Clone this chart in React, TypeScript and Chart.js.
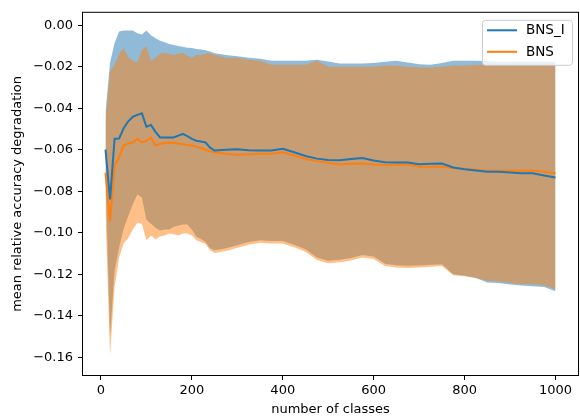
import React, { useEffect, useRef } from "react";
import { Chart, registerables } from "chart.js";

Chart.register(...registerables);

const CLASSES = [
  10, 20, 30, 40, 50, 60, 70, 80, 90, 100, 110, 120, 130, 140, 150, 160, 170, 180, 190, 200, 210, 220, 230, 240, 250,
  275, 300, 325, 350, 375, 400, 425, 450, 475, 500, 525, 550, 575, 600, 625, 650, 675, 700, 725, 750, 775, 800, 825,
  850, 875, 900, 925, 950, 975, 1000,
];

const BNS_I_MEAN = [
  -0.06, -0.084, -0.0547, -0.0546, -0.0496, -0.0463, -0.0442, -0.0432, -0.0424, -0.0489, -0.0481, -0.0514, -0.0541,
  -0.0541, -0.0541, -0.0541, -0.0532, -0.0524, -0.0535, -0.0548, -0.0557, -0.056, -0.0565, -0.059, -0.0604,
  -0.06, -0.0598, -0.0602, -0.0604, -0.0604, -0.0596, -0.0612, -0.063, -0.0643, -0.065, -0.0651, -0.0645, -0.064,
  -0.0652, -0.066, -0.0662, -0.0662, -0.067, -0.0668, -0.0667, -0.0686, -0.0694, -0.07, -0.0706, -0.0706, -0.071,
  -0.0713, -0.0713, -0.0724, -0.0734,
];

const BNS_I_UPPER = [
  -0.042, -0.018, -0.0086, -0.003, -0.0025, -0.0025, -0.0025, -0.0039, -0.0045, -0.0025, -0.0048, -0.0063, -0.0075,
  -0.0082, -0.009, -0.0095, -0.01, -0.0104, -0.0108, -0.011, -0.0114, -0.0117, -0.012, -0.0127, -0.0135,
  -0.0143, -0.015, -0.0157, -0.0162, -0.0171, -0.0171, -0.0171, -0.0171, -0.0166, -0.0175, -0.0185, -0.0185, -0.0185,
  -0.0182, -0.0176, -0.0171, -0.018, -0.0188, -0.019, -0.0182, -0.0171, -0.0171, -0.0171, -0.0174, -0.0176, -0.0176,
  -0.0176, -0.0176, -0.0176, -0.0176,
];

const BNS_I_LOWER = [
  -0.073, -0.15, -0.118, -0.107, -0.098, -0.092, -0.0864, -0.0816, -0.083, -0.0938, -0.0957, -0.0976, -0.099,
  -0.0985, -0.0985, -0.0971, -0.0966, -0.0961, -0.0961, -0.0985, -0.102, -0.103, -0.1045, -0.1075, -0.1085,
  -0.1075, -0.106, -0.1045, -0.1037, -0.104, -0.104, -0.1058, -0.108, -0.112, -0.1135, -0.1131, -0.1122, -0.1108,
  -0.1115, -0.115, -0.1157, -0.1159, -0.1158, -0.1154, -0.1152, -0.12, -0.1207, -0.1218, -0.124, -0.1242, -0.125,
  -0.1255, -0.1258, -0.1262, -0.1282,
];

const BNS_MEAN = [
  -0.0712, -0.0947, -0.0675, -0.0635, -0.058, -0.057, -0.0565, -0.0547, -0.0565, -0.0557, -0.0541, -0.058, -0.0572,
  -0.0568, -0.0565, -0.0567, -0.057, -0.0573, -0.0577, -0.058, -0.0585, -0.0592, -0.06, -0.0608, -0.0612,
  -0.062, -0.0624, -0.0622, -0.062, -0.0619, -0.0612, -0.0628, -0.0645, -0.0655, -0.0663, -0.0671, -0.0668, -0.0666,
  -0.0671, -0.0674, -0.0673, -0.0671, -0.0682, -0.0682, -0.0682, -0.0688, -0.0692, -0.0696, -0.0701, -0.0701, -0.0701,
  -0.0701, -0.0701, -0.0706, -0.0713,
];

const BNS_UPPER = [
  -0.046, -0.022, -0.019, -0.0138, -0.011, -0.0152, -0.0171, -0.018, -0.0119, -0.01, -0.0171, -0.0157, -0.0138,
  -0.0133, -0.0138, -0.0143, -0.0138, -0.0133, -0.0147, -0.0157, -0.0143, -0.0143, -0.0138, -0.0133, -0.0143,
  -0.0157, -0.0157, -0.0166, -0.0171, -0.019, -0.019, -0.019, -0.019, -0.0171, -0.02, -0.02, -0.02, -0.02,
  -0.02, -0.0194, -0.0194, -0.02, -0.0204, -0.0204, -0.02, -0.0194, -0.0194, -0.019, -0.019, -0.019, -0.019,
  -0.019, -0.019, -0.019, -0.019,
];

const BNS_LOWER = [
  -0.09, -0.159, -0.126, -0.112, -0.105, -0.1027, -0.0985, -0.0952, -0.0957, -0.1037, -0.1013, -0.1032, -0.1018,
  -0.1013, -0.1004, -0.1008, -0.1013, -0.1004, -0.1004, -0.1013, -0.1037, -0.1045, -0.1055, -0.1085, -0.1098,
  -0.1088, -0.1072, -0.1058, -0.1049, -0.1052, -0.1052, -0.107, -0.1092, -0.1132, -0.1147, -0.1143, -0.1134, -0.112,
  -0.1127, -0.116, -0.1168, -0.117, -0.1168, -0.1164, -0.116, -0.1205, -0.121, -0.1218, -0.1232, -0.1234, -0.1243,
  -0.1248, -0.1248, -0.1253, -0.1272,
];

const SERIES_LABELS = ["BNS_I", "BNS"];
const X_TICKS = [0, 200, 400, 600, 800, 1000];
const Y_TICKS = [-0.16, -0.14, -0.12, -0.1, -0.08, -0.06, -0.04, -0.02, 0];
const X_TITLE = "number of classes";
const Y_TITLE = "mean relative accuracy degradation";

const BLUE = "#1f77b4";
const ORANGE = "#ff7f0e";
const FONT = "'DejaVu Sans'";

const pts = (ys: number[]) => CLASSES.map((x, i) => ({ x, y: ys[i] }));

const framePlugin = {
  id: "mplFrame",
  afterDatasetsDraw(chart: any) {
    const { ctx, chartArea } = chart;
    ctx.save();
    ctx.strokeStyle = "#000";
    ctx.lineWidth = 1;
    ctx.strokeRect(chartArea.left - 0.5, chartArea.top - 0.5, chartArea.right - chartArea.left + 1, chartArea.bottom - chartArea.top + 1);
    ctx.restore();
  },
};

const legendPlugin = {
  id: "mplLegend",
  afterDraw(chart: any) {
    const { ctx, chartArea } = chart;
    const boxW = 90;
    const boxH = 45;
    const boxR = chartArea.right - 6;
    const boxT = chartArea.top + 7;
    const boxL = boxR - boxW;
    ctx.save();
    ctx.beginPath();
    (ctx as any).roundRect(boxL + 0.5, boxT + 0.5, boxW, boxH, 3);
    ctx.fillStyle = "rgba(255,255,255,0.8)";
    ctx.fill();
    ctx.strokeStyle = "#cccccc";
    ctx.lineWidth = 1;
    ctx.stroke();
    [0, 1].forEach((idx, k) => {
      const ds = chart.data.datasets[idx];
      const y = boxT + 10.5 + k * 21.5;
      ctx.strokeStyle = ds.borderColor;
      ctx.lineWidth = 2;
      ctx.beginPath();
      ctx.moveTo(boxL + 5, y);
      ctx.lineTo(boxL + 35, y);
      ctx.stroke();
      ctx.fillStyle = "#000";
      ctx.font = `13.5px ${FONT}`;
      ctx.textBaseline = "middle";
      ctx.textAlign = "left";
      ctx.fillText(ds.label, boxL + 44, y + 0.5);
    });
    ctx.restore();
  },
};

export default function App() {
  const ref = useRef<HTMLCanvasElement>(null);
  useEffect(() => {
    if (!ref.current) return;
    Chart.defaults.font.family = FONT;
    const lineDs = (label: string, data: number[], color: string) => ({
      label,
      data: pts(data),
      borderColor: color,
      backgroundColor: color,
      borderWidth: 2,
      pointRadius: 0,
      tension: 0,
      fill: false,
    });
    const bandDs = (label: string, data: number[], fill: any, bg: string) => ({
      label,
      data: pts(data),
      borderColor: "rgba(0,0,0,0)",
      backgroundColor: bg,
      borderWidth: 0,
      pointRadius: 0,
      tension: 0,
      fill,
    });
    const chart = new Chart(ref.current, {
      type: "line",
      data: {
        datasets: [
          lineDs(SERIES_LABELS[0], BNS_I_MEAN, BLUE),
          lineDs(SERIES_LABELS[1], BNS_MEAN, ORANGE),
          bandDs("BNS upper", BNS_UPPER, "+1", "rgba(255,127,14,0.5)"),
          bandDs("BNS lower", BNS_LOWER, false, "rgba(255,127,14,0.5)"),
          bandDs("BNS_I upper", BNS_I_UPPER, "+1", "rgba(31,119,180,0.5)"),
          bandDs("BNS_I lower", BNS_I_LOWER, false, "rgba(31,119,180,0.5)"),
        ] as any,
      },
      options: {
        responsive: false,
        animation: false,
        devicePixelRatio: 1,
        layout: { padding: { left: 0, top: 4, right: 2, bottom: 0 } },
        plugins: {
          legend: { display: false },
          tooltip: { enabled: false },
          filler: { drawTime: "beforeDatasetsDraw" } as any,
        },
        scales: {
          x: {
            type: "linear",
            min: -39.5,
            max: 1049.5,
            afterBuildTicks: (scale: any) => {
              scale.ticks = X_TICKS.map((v) => ({ value: v }));
            },
            afterFit: (scale: any) => {
              scale.height = 45;
            },
            ticks: {
              color: "#000",
              font: { size: 13, family: FONT },
              padding: 3,
              maxRotation: 0,
              autoSkip: false,
              callback: (v: any) => String(v),
            },
            grid: { display: true, drawOnChartArea: false, drawTicks: true, tickLength: 5, color: "#000" },
            border: { display: false },
            title: { display: true, text: X_TITLE, color: "#000", font: { size: 13, family: FONT }, padding: { top: 0, bottom: 3 } },
          },
          y: {
            type: "linear",
            min: -0.1686,
            max: 0.006,
            afterBuildTicks: (scale: any) => {
              scale.ticks = Y_TICKS.map((v) => ({ value: v }));
            },
            afterFit: (scale: any) => {
              scale.width = 83;
            },
            ticks: {
              color: "#000",
              font: { size: 13, family: FONT },
              padding: 5,
              autoSkip: false,
              callback: (v: any) => Number(v).toFixed(2).replace("-", "\u2212"),
            },
            grid: { display: true, drawOnChartArea: false, drawTicks: true, tickLength: 5, color: "#000" },
            border: { display: false },
            title: { display: true, text: Y_TITLE, color: "#000", font: { size: 13, family: FONT }, padding: { top: 10, bottom: 0 } },
          },
        },
      },
      plugins: [framePlugin, legendPlugin],
    });
    return () => chart.destroy();
  }, []);
  return (
    <canvas
      ref={ref}
      width={580}
      height={420}
      style={{ position: "fixed", left: 0, top: 0, width: 580, height: 420, display: "block", background: "#fff" }}
    />
  );
}
